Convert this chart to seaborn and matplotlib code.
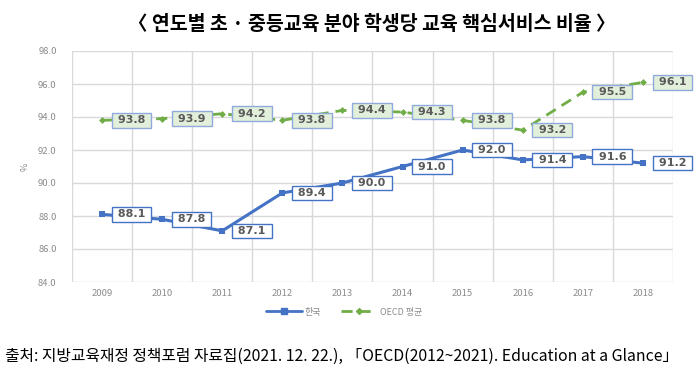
import matplotlib
matplotlib.use("Agg")
import matplotlib.pyplot as plt
import seaborn as sns
import pandas as pd
from matplotlib.ticker import FixedLocator, FormatStrFormatter
from matplotlib.lines import Line2D

years = [2009, 2010, 2011, 2012, 2013, 2014, 2015, 2016, 2017, 2018]
korea = [88.1, 87.8, 87.1, 89.4, 90.0, 91.0, 92.0, 91.4, 91.6, 91.2]
oecd = [93.8, 93.9, 94.2, 93.8, 94.4, 94.3, 93.8, 93.2, 95.5, 96.1]
series_names = ["한국", "OECD 평균"]
y_ticks = [84.0, 86.0, 88.0, 90.0, 92.0, 94.0, 96.0, 98.0]
title = "〈 연도별 초 · 중등교육 분야 학생당 교육 핵심서비스 비율 〉"
source = "출처: 지방교육재정 정책포럼 자료집(2021. 12. 22.), 「OECD(2012~2021). Education at a Glance」"

sns.set_theme(style="white")
plt.rcParams["font.family"] = ["Noto Sans CJK KR", "DejaVu Sans"]

blue = "#4472C4"
green = "#70AD47"
grey_txt = "#595959"
tick_grey = "#8C8C8C"

df_k = pd.DataFrame({"year": years, "value": korea})
df_o = pd.DataFrame({"year": years, "value": oecd})

fig = plt.figure(figsize=(6.94, 3.81), dpi=100)
ax = fig.add_axes([72/694, 1-282/381, (673-72)/694, (282-51)/381])

sns.lineplot(data=df_k, x="year", y="value", ax=ax, color=blue, linewidth=2.2,
             marker="s", markersize=5, markeredgewidth=0, zorder=3)
sns.lineplot(data=df_o, x="year", y="value", ax=ax, color=green, linewidth=2.0,
             marker="D", markersize=3.5, markeredgewidth=0, zorder=3)
ax.lines[1].set_dashes((4, 2.5))

ax.set_xlim(years[0] - 0.5, years[-1] + 0.5)
ax.set_ylim(y_ticks[0], y_ticks[-1])
ax.set_xticks(years)
ax.set_xticklabels([str(y) for y in years])
ax.xaxis.set_minor_locator(FixedLocator([y - 0.5 for y in years] + [years[-1] + 0.5]))
ax.set_yticks(y_ticks)
ax.yaxis.set_major_formatter(FormatStrFormatter("%.1f"))
ax.grid(False)
ax.grid(True, which="minor", axis="x", color="#D9D9D9", linewidth=1)
ax.grid(True, which="major", axis="y", color="#D9D9D9", linewidth=1)
ax.tick_params(axis="both", which="both", length=0)
ax.tick_params(axis="y", pad=11, labelsize=6.8, labelcolor=tick_grey)
ax.tick_params(axis="x", pad=5, labelsize=6.8, labelcolor=tick_grey)
for s in ax.spines.values():
    s.set_visible(False)
ax.set_xlabel("")
ax.set_ylabel("%", fontsize=6.5, color=tick_grey, labelpad=6)

def label(xs, vs, face, edge):
    for x, v in zip(xs, vs):
        ax.annotate(f" {v:.1f} ", xy=(x, v), xytext=(8.5, 0), textcoords="offset points",
                    ha="left", va="center", fontsize=8, color=grey_txt,
                    fontweight="bold", family="DejaVu Sans",
                    bbox=dict(boxstyle="square,pad=0.2", facecolor=face, edgecolor=edge, linewidth=1),
                    zorder=5, annotation_clip=False)

label(years, korea, "white", blue)
label(years, oecd, "#E2EFDA", "#8FAADC")

handles = [Line2D([0], [0], color=blue, lw=2, marker="s", markersize=4),
           Line2D([0], [0], color=green, lw=2, marker="D", markersize=3, dashes=(4, 2.5))]
fig.legend(handles, series_names, loc="center", bbox_to_anchor=(344/694, 1-312/381), ncol=2,
           frameon=False, fontsize=6.5, labelcolor=tick_grey, handlelength=4.0, columnspacing=2.2,
           handletextpad=0.3)

fig.text(372/694, 1-24/381, title, ha="center", va="center", fontsize=14, fontweight="bold", color="black")
fig.text(5/694, 1-356/381, source, ha="left", va="center", fontsize=11.4, color="black")

fig.savefig("out.png", dpi=100)
